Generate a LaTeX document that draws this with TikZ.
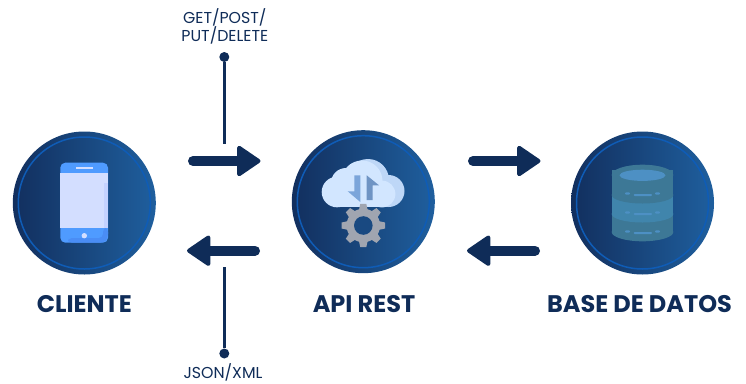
\documentclass[tikz,border=0pt]{standalone}
\usepackage{fontspec}
\setmainfont{Poppins}
\usetikzlibrary{arrows.meta,positioning}
\definecolor{navy}{HTML}{0F2C58}
\definecolor{ringblue}{HTML}{0F5CB6}
\definecolor{discL}{HTML}{122F5E}
\definecolor{discR}{HTML}{1F5F9E}
\definecolor{phoneblue}{HTML}{4F9BFF}
\definecolor{phonedark}{HTML}{4A8DF5}
\definecolor{screenblue}{HTML}{D3DEFF}
\definecolor{screendark}{HTML}{C4D2FF}
\definecolor{cloudlight}{HTML}{D2E6FF}
\definecolor{cloudshade}{HTML}{BED7F7}
\definecolor{swapblue}{HTML}{7BA5DA}
\definecolor{gearcol}{HTML}{A0A5B0}
\definecolor{dbdark}{HTML}{3D7896}
\definecolor{dbmid}{HTML}{4085AC}
\definecolor{dbtop}{HTML}{4D90C4}
\tikzset{
  disc/.style={circle,minimum size=143pt,inner sep=0pt,left color=discL,right color=discR},
  ring/.style={circle,minimum size=132pt,inner sep=0pt,draw=ringblue,line width=1.5pt},
  title/.style={text=navy,font=\fontsize{24}{28}\selectfont\bfseries,inner sep=0pt},
  verb/.style={text=navy,font=\fontsize{15.8}{18.3}\selectfont,align=center,inner sep=0pt},
  dot/.style={circle,fill=navy,minimum size=10pt,inner sep=0pt},
  stem/.style={draw=navy,line width=3pt},
  flow/.style={draw=navy,line width=10pt,line cap=round,
    -{Triangle[length=25pt,width=33pt,line width=4pt,round,fill=navy]}}
}
\begin{document}
\begin{tikzpicture}[x=1pt,y=-1pt]
\useasboundingbox (0,0) rectangle (746,383);

% discs
\node[disc] (cliente) at (84.3,203) {};
\node[disc] (api) at (363.3,201.7) {};
\node[disc] (base) at (642.5,203) {};
\node[ring] at (cliente) {};
\node[ring] at (api) {};
\node[ring] at (base) {};

% titles
\node[title] (tcliente) at (84.3,304) {CLIENTE};
\node[title] (tapi) at (364,304) {API REST};
\node[title] (tbase) at (639.5,304) {BASE DE DATOS};

% phone
\fill[phoneblue,rounded corners=5pt] (60.3,162.7) rectangle (108,242.7);
\fill[phonedark,rounded corners=4pt] (68,238) -- (103,238) -- (103,228) -- (108,228) -- (108,238) -- (104,242.7) -- (68,242.7) -- cycle;
\fill[screenblue] (60.3,173.3) rectangle (108,228.3);
\fill[screendark] (103.5,183) -- (108,183) -- (108,228.3) -- (103.5,228.3) -- cycle;
\fill[screenblue] (76,166.7) rectangle (92.6,169.3);
\fill[screenblue] (84.3,235.7) circle (2.7);

% cloud
\fill[cloudshade] (368,180) circle (21);
\fill[cloudshade] (388.5,191) circle (16);
\fill[cloudlight] (337,192) circle (15.3);
\fill[cloudlight] (346,183) circle (15);
\fill[cloudlight] (362,181) circle (20.5);
\fill[cloudlight] (382,194) circle (13.4);
\fill[cloudlight] (337,190) rectangle (382,207.4);
\fill[swapblue] (354.3,175.3) -- (360.3,175.3) -- (360.3,202) -- (347.7,191.3) -- (354.3,191.3) -- cycle;
\fill[swapblue!90!black] (366.7,175.3) -- (379,185.3) -- (372.7,185.3) -- (372.7,200) -- (366.7,200) -- cycle;

% gear
\foreach \ang in {0,45,...,315}
  \fill[gearcol,rotate around={\ang:(363.3,225.5)}] (358.5,212) -- (360.3,203.8) -- (366.3,203.8) -- (368.1,212) -- cycle;
\fill[gearcol] (363.3,225.5) circle (16.8);
\fill[discL!45!discR] (363.3,225.5) circle (9.3);

% database
\fill[dbdark] (611.7,170) rectangle (673.3,232);
\fill[dbdark] (642.5,232) ellipse (30.8 and 9.3);
\fill[dbmid] (611.7,195) rectangle (673.3,214);
\fill[dbmid] (642.5,214) ellipse (30.8 and 8.5);
\fill[dbdark] (642.5,195) ellipse (30.8 and 8.5);
\fill[dbdark] (611.7,178) rectangle (673.3,195);
\fill[dbdark] (642.5,175) ellipse (30.8 and 10.3);
\fill[dbtop] (642.5,175.3) ellipse (23 and 5.6);
\foreach \yy in {194,213,232}{
  \fill[dbtop,rounded corners=1pt] (625,\yy-1.6) rectangle (630,\yy+.6);
  \fill[dbtop,rounded corners=1pt] (633.5,\yy) rectangle (652,\yy+2);
  \fill[dbtop,rounded corners=1pt] (655,\yy-1.6) rectangle (660,\yy+.6);
}

% arrows
\coordinate (a1s) at (193,161);
\coordinate (a1e) at (260.5,161);
\coordinate (a2s) at (255,250.7);
\coordinate (a2e) at (187,250.7);
\coordinate (a3s) at (473,161);
\coordinate (a3e) at (540.5,161);
\coordinate (a4s) at (535,250.7);
\coordinate (a4e) at (467,250.7);
\draw[flow] (a1s) -- (a1e);
\draw[flow] (a2s) -- (a2e);
\draw[flow] (a3s) -- (a3e);
\draw[flow] (a4s) -- (a4e);

% verbs
\node[verb] (peticion) at (224.8,26.5) {GET/POST/\\PUT/DELETE};
\node[dot] (dtop) at (224.3,57) {};
\coordinate (stop) at (224.3,144);
\draw[stem] (dtop) -- (stop);
\node[verb,anchor=base] (respuesta) at (223,378) {JSON/XML};
\node[dot] (dbot) at (224.3,353.5) {};
\coordinate (sbot) at (224.3,267);
\draw[stem] (dbot) -- (sbot);

\end{tikzpicture}
\end{document}
